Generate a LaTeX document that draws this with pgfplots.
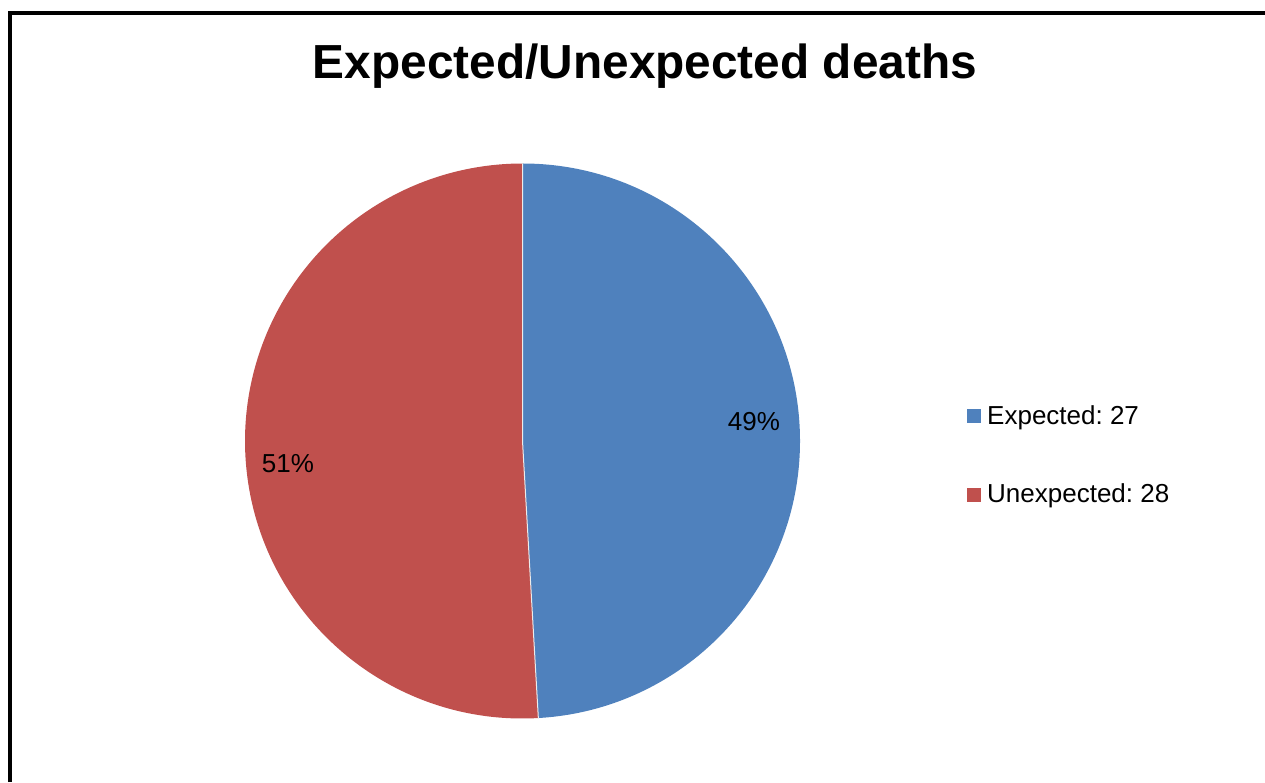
\documentclass[border=0pt]{standalone}
\usepackage{fontspec}
\setmainfont{Liberation Sans}
\usepackage{pgfplots}
\usepackage{pgfplotstable}
\pgfplotsset{compat=1.18}
\frenchspacing
\definecolor{pieblue}{HTML}{4F81BD}
\definecolor{piered}{HTML}{C0504D}
\pgfplotstableread{
label value
Expected 27
Unexpected 28
}\piedata
\begin{document}%
\begin{tikzpicture}%
\pgfplotstablegetelem{0}{value}\of\piedata \let\va\pgfplotsretval%
\pgfplotstablegetelem{1}{value}\of\piedata \let\vb\pgfplotsretval%
\pgfmathsetmacro{\tot}{\va+\vb}%
\pgfmathsetmacro{\ea}{90-360*\va/\tot}%
\pgfmathsetmacro{\eb}{\ea-360*\vb/\tot}%
\begin{axis}[
  width=1265pt, height=782pt, scale only axis,
  xmin=0, xmax=1265, ymin=0, ymax=782,
  axis lines=none, ticks=none, clip=false]
% frame
\draw[line width=4pt, line cap=butt] (axis cs:10,0) -- (axis cs:10,769) -- (axis cs:1265,769);
% pie
\fill[pieblue] (axis cs:522.5,341) -- (axis cs:522.5,618.5) arc[start angle=90, end angle=\ea, radius=277.5pt] -- cycle;
\fill[piered] (axis cs:522.5,341) -- ++(\ea:277.5pt) arc[start angle=\ea, end angle=\eb, radius=277.5pt] -- cycle;
\draw[white!85!gray, line width=1pt] (axis cs:522.5,618.5) -- (axis cs:522.5,341) -- ++(\ea:277.5pt);
% labels
\node[anchor=base, font=\fontsize{26}{28}\selectfont, inner sep=0pt] at (axis cs:754,351) {49\%};
\node[anchor=base, font=\fontsize{26}{28}\selectfont, inner sep=0pt] at (axis cs:288,309) {51\%};
% title
\node[anchor=base, font=\fontsize{47.8}{50}\selectfont\bfseries, inner sep=0pt] at (axis cs:645,703) {Expected/Unexpected deaths};
% legend
\fill[pieblue] (axis cs:967,359) rectangle (axis cs:981,373);
\node[anchor=base west, font=\fontsize{26}{28}\selectfont, inner sep=0pt] at (axis cs:987,357) {Expected: 27};
\fill[piered] (axis cs:967,280) rectangle (axis cs:981,294);
\node[anchor=base west, font=\fontsize{26}{28}\selectfont, inner sep=0pt] at (axis cs:987,280) {Unexpected: 28};
\end{axis}
\pgfresetboundingbox
\path[use as bounding box] (0,0) rectangle (1265pt,782pt);
\end{tikzpicture}%
\end{document}
